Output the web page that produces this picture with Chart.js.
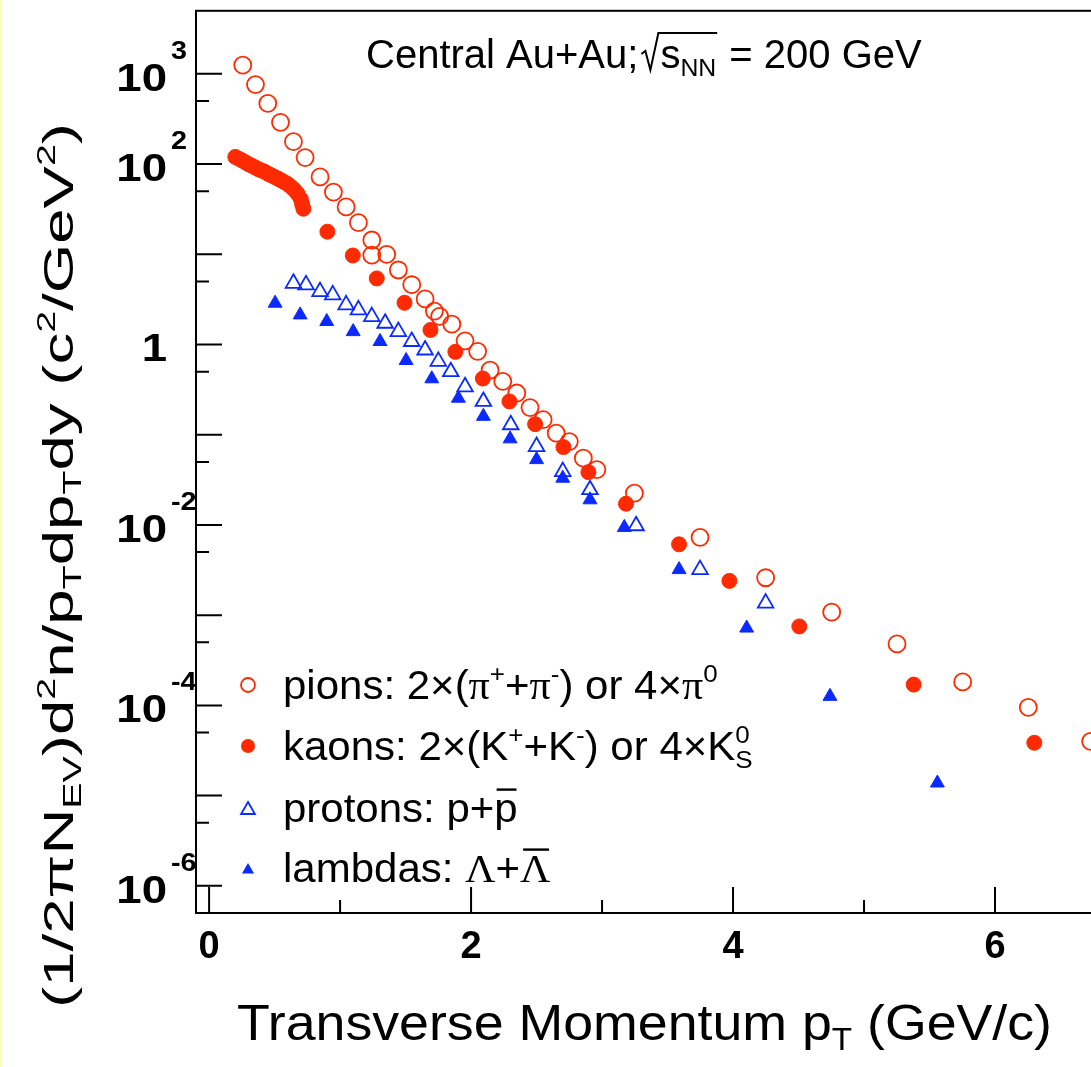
<!DOCTYPE html>
<html>
<head>
<meta charset="utf-8">
<script src="https://cdn.jsdelivr.net/npm/chart.js@4.4.0/dist/chart.umd.min.js"></script>
<style>
  html, body { margin: 0; padding: 0; background: #fff; overflow: hidden; }
  #wrap { position: relative; width: 1138px; height: 1067px; }
  #edge { position: absolute; left: 0; top: 0; width: 2px; height: 1067px; background: #ffffb0; }
</style>
</head>
<body>
<div id="wrap">
  <canvas id="spectra" width="1138" height="1067"></canvas>
  <div id="edge"></div>
</div>
<script>
// pT spectra, central Au+Au at 200 GeV
const pionPt = [0.257, 0.354, 0.448, 0.545, 0.644, 0.733, 0.847, 0.949, 1.046, 1.14, 1.242, 1.242, 1.356, 1.445, 1.547, 1.649,
  1.72, 1.76, 1.853, 1.954, 2.05, 2.145, 2.242, 2.349, 2.45, 2.55, 2.65, 2.75, 2.857, 2.96,
  3.247, 3.748, 4.249, 4.753, 5.252, 5.753, 6.254, 6.73];
const pionYield = [1250, 760, 470, 290, 177, 118, 72, 49, 33.5, 22.4, 14.4, 9.8, 10.0, 6.7, 4.6, 3.2,
  2.35, 2.05, 1.68, 1.1, 0.84, 0.52, 0.39, 0.29, 0.20, 0.147, 0.104, 0.084, 0.055, 0.041,
  0.0225, 0.0073, 0.0026, 0.00108, 0.00048, 0.000182, 0.000095, 0.00004];

const kaonPt = [0.20, 0.225, 0.25, 0.275, 0.30, 0.325, 0.35, 0.375, 0.40, 0.425, 0.45, 0.475, 0.50, 0.525,
  0.55, 0.575, 0.60, 0.625, 0.65, 0.675, 0.70, 0.71, 0.72,
  0.903, 1.097, 1.28, 1.492, 1.69, 1.88, 2.09, 2.293, 2.489, 2.705, 2.896,
  3.183, 3.588, 3.972, 4.506, 5.379, 6.3];
const kaonYield = [120, 115, 110, 105, 100, 96, 92, 88, 85, 82, 78, 75, 72, 69,
  66, 63, 60, 56, 52, 47, 41, 36, 32,
  17.8, 9.7, 5.4, 2.9, 1.45, 0.83, 0.42, 0.234, 0.131, 0.073, 0.0385,
  0.0172, 0.0061, 0.0024, 0.00075, 0.00017, 0.0000385];

const protonPt = [0.644, 0.74, 0.847, 0.944, 1.046, 1.14, 1.242, 1.344, 1.445, 1.547, 1.649, 1.75, 1.845, 1.954,
  2.094, 2.303, 2.5, 2.7, 2.908, 3.26, 3.748, 4.249];
const protonYield = [4.77, 4.58, 3.86, 3.55, 2.75, 2.42, 2.04, 1.72, 1.39, 1.08, 0.87, 0.65, 0.50, 0.34,
  0.234, 0.129, 0.074, 0.039, 0.0246, 0.0098, 0.0032, 0.00136];

const lambdaPt = [0.504, 0.695, 0.898, 1.10, 1.305, 1.504, 1.70, 1.903, 2.094, 2.298, 2.5, 2.7, 2.908,
  3.17, 3.588, 4.104, 4.74, 5.56];
const lambdaYield = [2.87, 2.13, 1.80, 1.39, 1.08, 0.665, 0.417, 0.254, 0.16, 0.090, 0.053, 0.033, 0.019,
  0.0094, 0.0032, 0.00072, 0.000126, 0.0000138];

// axis ticks
const yMajorTicks = [1e-6, 1e-5, 1e-4, 1e-3, 1e-2, 1e-1, 1, 10, 100, 1000];
const yMinorTicks = [5e-6, 5e-5, 5e-4, 5e-3, 5e-2, 0.5, 5, 50, 500];
const yLabelExps = [3, 2, 0, -2, -4, -6];
const xMajorTicks = [0, 2, 4, 6];
const xMinorTicks = [1, 3, 5];

const RED = '#ff2a00';
const BLUE = '#0a2aff';
const FONT = '"Liberation Sans", Arial, Helvetica, sans-serif';
const SERIF = '"Liberation Serif", "Times New Roman", serif';

function toPoints(xs, ys) {
  return xs.map((x, i) => ({ x: x, y: ys[i] }));
}

// draws text pieces; mode: '' normal, 'u' sup, 'd' sub, 'b' overline, 's' serif, 'ud' sup without advance
function richText(ctx, segs, x, y, size, weight) {
  let cx = x;
  for (const [t, mode] of segs) {
    let s = size, dy = 0, fam = FONT;
    if (mode.includes('u')) { s = size * 0.62; dy = -size * 0.42; }
    if (mode === 'd') { s = size * 0.62; dy = size * 0.2; }
    if (mode.includes('s')) fam = SERIF;
    ctx.font = (weight || '') + ' ' + s + 'px ' + fam;
    ctx.fillText(t, cx, y + dy);
    const w = ctx.measureText(t).width;
    if (mode.includes('b')) {
      ctx.fillRect(cx + w * 0.1, y - size * 0.84, w * 0.85, size * 0.06);
    }
    if (mode !== 'ud') cx += w;
  }
  return cx - x;
}

function measureRich(ctx, segs, size, weight) {
  ctx.save();
  ctx.globalAlpha = 0;
  const w = richText(ctx, segs, 0, 0, size, weight);
  ctx.restore();
  return w;
}

const rootAxes = {
  id: 'rootAxes',
  afterDatasetsDraw(chart) {
    const { ctx, chartArea: a, scales: { x, y } } = chart;
    ctx.save();
    ctx.strokeStyle = '#000';
    ctx.fillStyle = '#000';
    ctx.lineWidth = 2;
    ctx.strokeRect(a.left, a.top, a.right - a.left, a.bottom - a.top);

    ctx.beginPath();
    yMajorTicks.forEach(v => {
      const p = y.getPixelForValue(v);
      ctx.moveTo(a.left, p); ctx.lineTo(a.left + 26, p);
    });
    yMinorTicks.forEach(v => {
      const p = y.getPixelForValue(v);
      ctx.moveTo(a.left, p); ctx.lineTo(a.left + 13, p);
    });
    xMajorTicks.forEach(v => {
      const p = x.getPixelForValue(v);
      ctx.moveTo(p, a.bottom); ctx.lineTo(p, a.bottom - 26);
    });
    xMinorTicks.forEach(v => {
      const p = x.getPixelForValue(v);
      ctx.moveTo(p, a.bottom); ctx.lineTo(p, a.bottom - 13);
    });
    ctx.stroke();

    // y tick labels (slightly wide bold, like the original)
    ctx.textBaseline = 'alphabetic';
    yLabelExps.forEach(e => {
      const p = y.getPixelForValue(Math.pow(10, e));
      ctx.save();
      ctx.translate(a.left - 29, p + 17);
      ctx.scale(1.2, 1);
      ctx.font = 'bold 38px ' + FONT;
      ctx.textAlign = 'right';
      ctx.fillText(e === 0 ? '1' : '10', 0, e === 0 ? -1 : 0);
      ctx.restore();
      if (e !== 0) {
        ctx.save();
        ctx.translate(a.left - 25, p - 15);
        ctx.scale(1.15, 1);
        ctx.textAlign = 'left';
        ctx.font = 'bold 25px ' + FONT;
        ctx.fillText(String(e), 0, 0);
        ctx.restore();
      }
    });
    // x tick labels
    ctx.textAlign = 'center';
    ctx.font = 'bold 38px ' + FONT;
    xMajorTicks.forEach(v => {
      ctx.fillText(String(v), x.getPixelForValue(v), a.bottom + 45);
    });
    ctx.textAlign = 'left';

    // x title
    const xt = [['Transverse Momentum p', ''], ['T', 'd'], [' (GeV/c)', '']];
    const xw = measureRich(ctx, xt, 50, '');
    ctx.save();
    ctx.translate(237, 1040);
    ctx.scale(815 / xw, 1);
    richText(ctx, xt, 0, 0, 50, '');
    ctx.restore();

    // y title
    const yt = [['(1/2\u03c0N', ''], ['EV', 'd'], [')d', ''], ['2', 'u'], ['n/p', ''], ['T', 'd'], ['dp', ''],
      ['T', 'd'], ['dy (c', ''], ['2', 'u'], ['/GeV', ''], ['2', 'u'], [')', '']];
    const yw = measureRich(ctx, yt, 42, '');
    ctx.save();
    ctx.translate(73, 1008);
    ctx.rotate(-Math.PI / 2);
    ctx.scale(885 / yw, 1);
    richText(ctx, yt, 0, 0, 42, '');
    ctx.restore();

    // header
    let hx = 366;
    const hb = 68;
    ctx.font = '40px ' + FONT;
    ctx.fillText('Central Au+Au;', hx, hb);
    hx += ctx.measureText('Central Au+Au;').width + 3;
    ctx.beginPath();
    ctx.lineWidth = 2;
    ctx.moveTo(hx, hb - 14);
    ctx.lineTo(hx + 4, hb - 17);
    ctx.lineTo(hx + 9, hb + 2);
    ctx.lineTo(hx + 17, hb - 35);
    hx += 19;
    hx += richText(ctx, [['s', ''], ['NN', 'd']], hx, hb, 40, '');
    ctx.lineTo(hx + 1, hb - 35);
    ctx.stroke();
    ctx.font = '40px ' + FONT;
    ctx.fillText(' = 200 GeV', hx + 2, hb);

    // legend
    const rows = [
      { y: 685, kind: 'pion', segs: [['pions: 2\u00d7(', ''], ['\u03c0', 's'], ['+', 'u'], ['+', ''], ['\u03c0', 's'], ['-', 'u'], [') or 4\u00d7', ''], ['\u03c0', 's'], ['0', 'u']] },
      { y: 746, kind: 'kaon', segs: [['kaons: 2\u00d7(K', ''], ['+', 'u'], ['+K', ''], ['-', 'u'], [') or 4\u00d7K', ''], ['0', 'ud'], ['S', 'd']] },
      { y: 808, kind: 'proton', segs: [['protons: p+', ''], ['p', 'b']] },
      { y: 868, kind: 'lambda', segs: [['lambdas: ', ''], ['\u039b', 's'], ['+', ''], ['\u039b', 'sb']] }
    ];
    rows.forEach(r => {
      const mx = 248;
      ctx.lineWidth = 1.8;
      ctx.beginPath();
      if (r.kind === 'pion' || r.kind === 'kaon') {
        ctx.arc(mx, r.y, 7, 0, Math.PI * 2);
        if (r.kind === 'pion') { ctx.strokeStyle = RED; ctx.stroke(); }
        else { ctx.fillStyle = RED; ctx.fill(); }
      } else {
        const rad = r.kind === 'proton' ? 8 : 7;
        for (let k = 0; k < 3; k++) {
          const ang = k * 2 * Math.PI / 3;
          const px = mx + Math.sin(ang) * rad, py = r.y + 2 - Math.cos(ang) * rad;
          if (k === 0) ctx.moveTo(px, py); else ctx.lineTo(px, py);
        }
        ctx.closePath();
        if (r.kind === 'proton') { ctx.strokeStyle = BLUE; ctx.stroke(); }
        else { ctx.fillStyle = BLUE; ctx.fill(); }
      }
      ctx.fillStyle = '#000';
      ctx.save();
      ctx.translate(283, r.y + 14);
      ctx.scale(1.05, 1);
      richText(ctx, r.segs, 0, 0, 40, '');
      ctx.restore();
    });
    ctx.restore();
  }
};

const ctx = document.getElementById('spectra').getContext('2d');
new Chart(ctx, {
  type: 'scatter',
  data: {
    datasets: [
      { label: 'kaons', data: toPoints(kaonPt, kaonYield), pointStyle: 'circle', pointRadius: 7.5,
        backgroundColor: RED, borderColor: RED, borderWidth: 1 },
      { label: 'lambdas', data: toPoints(lambdaPt, lambdaYield), pointStyle: 'triangle', pointRadius: 8,
        backgroundColor: BLUE, borderColor: BLUE, borderWidth: 1 },
      { label: 'pions', data: toPoints(pionPt, pionYield), pointStyle: 'circle', pointRadius: 8.5,
        backgroundColor: 'rgba(0,0,0,0)', borderColor: RED, borderWidth: 1.8 },
      { label: 'protons', data: toPoints(protonPt, protonYield), pointStyle: 'triangle', pointRadius: 9,
        backgroundColor: 'rgba(0,0,0,0)', borderColor: BLUE, borderWidth: 1.8 }
    ]
  },
  options: {
    responsive: false,
    animation: false,
    devicePixelRatio: 1,
    layout: { padding: { left: 196, top: 10, right: 12, bottom: 154 } },
    plugins: { legend: { display: false }, tooltip: { enabled: false } },
    scales: {
      x: { type: 'linear', min: -0.1, max: 7, display: false },
      y: { type: 'logarithmic', min: 5e-7, max: 5e3, display: false }
    }
  },
  plugins: [rootAxes]
});
</script>
</body>
</html>
